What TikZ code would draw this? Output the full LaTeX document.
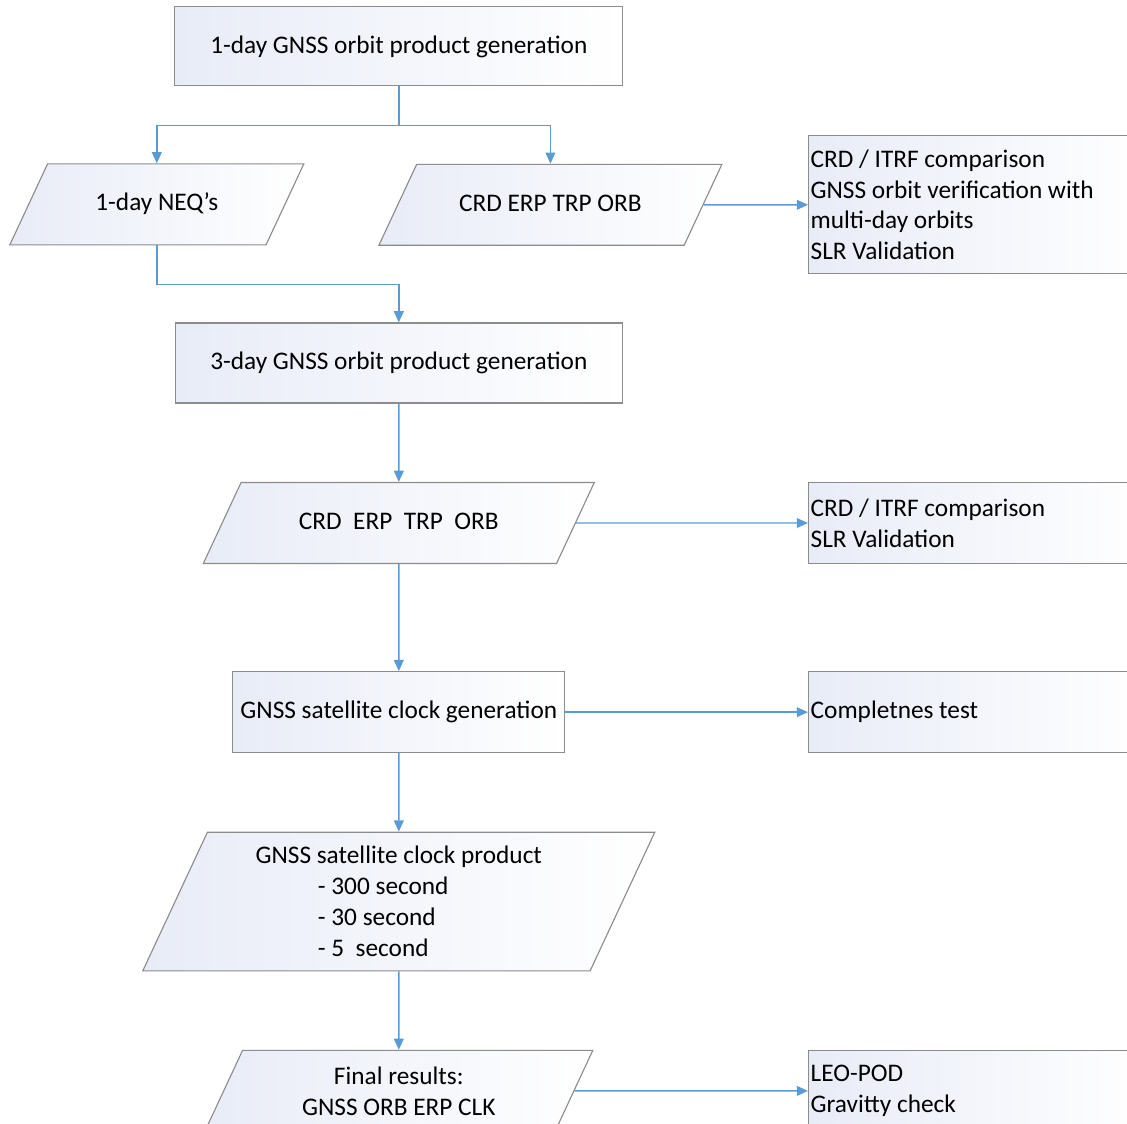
\documentclass[tikz,border=0pt]{standalone}
\usepackage{fontspec}
\setmainfont{Carlito}
\usetikzlibrary{shapes.geometric,arrows.meta,positioning}
\definecolor{flowblue}{RGB}{91,155,213}
\definecolor{boxgray}{RGB}{140,140,140}
\definecolor{boxtint}{RGB}{232,236,247}
\tikzset{
    node distance = 1.96cm and 1cm,
    font=\fontsize{18}{22}\selectfont,
    box/.style = {rectangle, draw=boxgray, line width=0.8pt, left color=boxtint, right color=white, align=center, minimum height=2cm},
    data/.style = {trapezium, trapezium left angle=65, trapezium right angle=115, trapezium stretches body, draw=boxgray, line width=0.8pt, left color=boxtint, right color=white, align=center, text height=13pt, text depth=4pt, inner ysep=20.3pt},
    note/.style = {rectangle, draw=boxgray, line width=0.8pt, left color=boxtint, right color=white, align=flush left, anchor=west, text width=8.3cm, inner xsep=1.5pt},
    flow/.style = {-{Triangle[length=8pt,width=7pt]}, draw=flowblue, line width=1pt}
}
\begin{document}
\begin{tikzpicture}
    \useasboundingbox (0,0) rectangle (28.175,-28.075);
    \node[box, minimum width=11.2cm, minimum height=1.975cm] (1) at (9.97,-1.16) {1-day GNSS orbit product generation};
    \node[data, minimum width=7.35cm] (2) at (3.92,-5.11) {1-day NEQ’s};
    \node[data, minimum width=8.575cm] (3) at (13.76,-5.12) {CRD ERP TRP ORB};
    \node[note, minimum height=3.45cm] (4) at (20.2,0 |- 3) {CRD / ITRF comparison\\GNSS orbit verification with\\multi-day orbits\\SLR Validation};

    \node[box, minimum width=11.175cm] (5) at (9.97,-9.075) {3-day GNSS orbit product generation};
    \node[data, minimum width=9.775cm] (6) [below = of 5] {CRD\ \ ERP\ \ TRP\ \ ORB};
    \node[note, minimum height=2.025cm] (7) at (20.2,0 |- 6) {CRD / ITRF comparison\\SLR Validation};

    \node[box, minimum width=8.3cm, minimum height=2.025cm] (8) [below = 2.675cm of 6] {GNSS satellite clock generation};
    \node[note, minimum height=2.025cm] (9) at (20.2,0 |- 8) {Completnes test};

    \node[data, minimum width=12.8cm, text height={}, text depth={}, inner ysep=10pt] (10) [below = of 8] {GNSS satellite clock product\\\makebox[115pt][l]{- 300 second}\\\makebox[115pt][l]{- 30 second}\\\makebox[115pt][l]{- 5\ \ second}};
    \node[data, minimum width=9.7cm, text height={}, text depth={}, inner ysep=11.5pt] (11) [below = of 10] {Final results:\\GNSS ORB ERP CLK};
    \node[note, minimum height=2.025cm] (12) at (20.2,0 |- 11) {LEO-POD\\Gravitty check};

    \draw[flow] (1.south) -- ++(0,-0.975) coordinate (s) -| (2);
    \draw[flow] (s) -| (3);
    \draw[flow] (2.south) -- ++(0,-0.975) -| (5);
    \draw[flow] (3) -- (4);
    \draw[flow] (5) -- (6);
    \draw[flow] (6) -- (7);
    \draw[flow] (6) -- (8);
    \draw[flow] (8) -- (9);
    \draw[flow] (8) -- (10);
    \draw[flow] (10) -- (11);
    \draw[flow] (11) -- (12);
\end{tikzpicture}
\end{document}
